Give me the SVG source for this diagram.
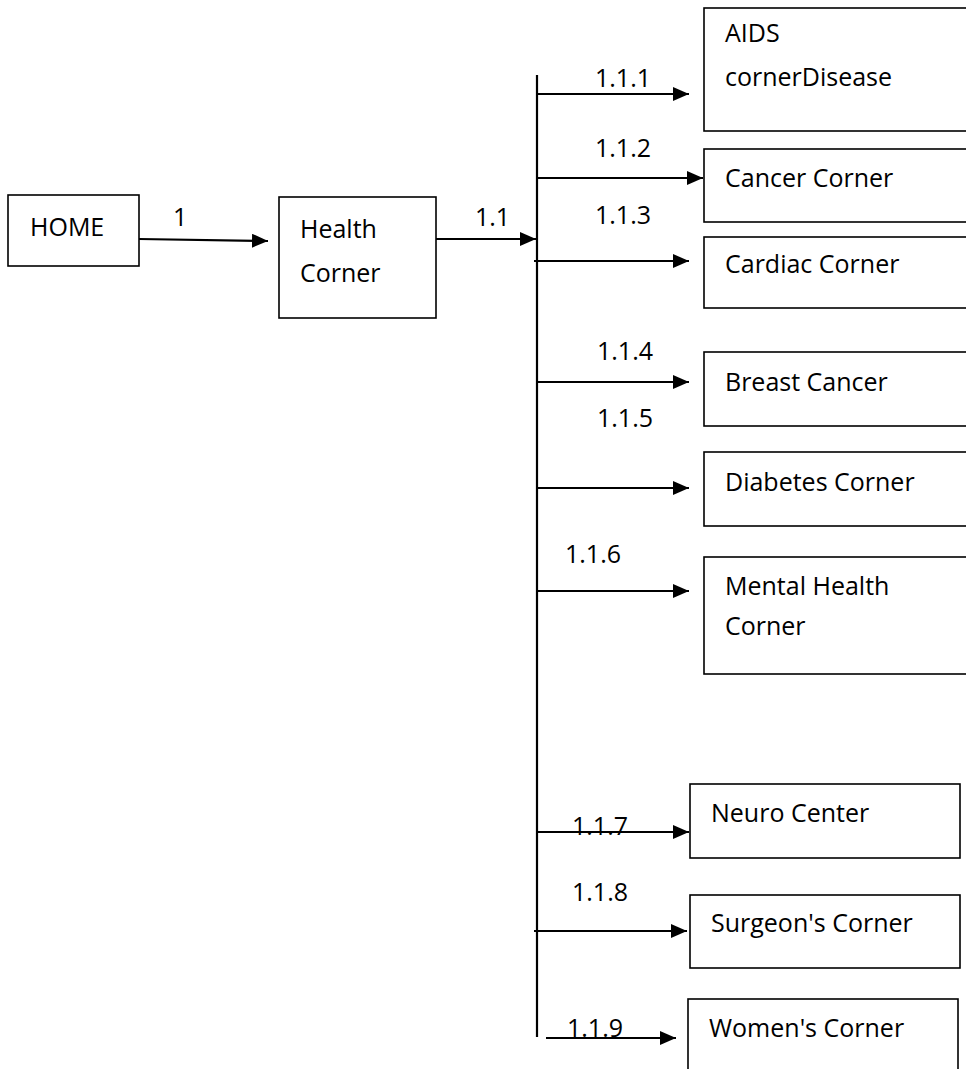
<svg xmlns="http://www.w3.org/2000/svg" width="966" height="1069" viewBox="0 0 966 1069">
  <style>
    .box { fill: #ffffff; stroke: #000000; stroke-width: 1.6; }
    .lbl { font-family: "Open Sans", "Liberation Sans", sans-serif; font-size: 25px; fill: #000000; }
    .wire { stroke: #000000; stroke-width: 2.2; fill: none; }
    .arrow { stroke: #000000; stroke-width: 2.2; fill: none; marker-end: url(#head); }
  </style>
  <defs>
    <marker id="head" markerUnits="userSpaceOnUse" markerWidth="16" markerHeight="14" refX="16" refY="7" orient="auto">
      <path d="M0,0 L16,7 L0,14 Z" fill="#000000"/>
    </marker>
  </defs>
  <rect width="966" height="1069" fill="#ffffff"/>

  <!-- connectors -->
  <g id="connectors">
    <path class="arrow" d="M139,239 L268,241"/>
    <path class="arrow" d="M436,239 L536,239"/>
    <path class="wire" d="M537,75 L537,1037"/>
    <path class="arrow" d="M537,94 L689,94"/>
    <path class="arrow" d="M537,178 L703,178"/>
    <path class="arrow" d="M534,261 L689,261"/>
    <path class="arrow" d="M537,382 L689,382"/>
    <path class="arrow" d="M537,488 L689,488"/>
    <path class="arrow" d="M537,591 L689,591"/>
    <path class="arrow" d="M537,832 L689,832"/>
    <path class="arrow" d="M534,931 L687,931"/>
    <path class="arrow" d="M546,1038 L676,1038"/>
    <text class="lbl" x="173" y="226">1</text>
    <text class="lbl" x="475" y="226">1.1</text>
    <text class="lbl" x="595" y="87">1.1.1</text>
    <text class="lbl" x="595" y="157">1.1.2</text>
    <text class="lbl" x="595" y="224">1.1.3</text>
    <text class="lbl" x="597" y="360">1.1.4</text>
    <text class="lbl" x="597" y="427">1.1.5</text>
    <text class="lbl" x="565" y="563">1.1.6</text>
    <text class="lbl" x="572" y="835">1.1.7</text>
    <text class="lbl" x="572" y="901">1.1.8</text>
    <text class="lbl" x="567" y="1037">1.1.9</text>
  </g>

  <g id="home">
    <rect class="box" x="8" y="195" width="131" height="71"/>
    <text class="lbl" x="30" y="236">HOME</text>
  </g>
  <g id="health-corner">
    <rect class="box" x="279" y="197" width="157" height="121"/>
    <text class="lbl" x="300" y="238">Health</text>
    <text class="lbl" x="300" y="282">Corner</text>
  </g>
  <g id="aids">
    <rect class="box" x="704" y="8" width="270" height="123"/>
    <text class="lbl" x="725" y="42">AIDS</text>
    <text class="lbl" x="725" y="86">cornerDisease</text>
  </g>
  <g id="cancer">
    <rect class="box" x="704" y="149" width="270" height="73"/>
    <text class="lbl" x="725" y="187">Cancer Corner</text>
  </g>
  <g id="cardiac">
    <rect class="box" x="704" y="237" width="270" height="71"/>
    <text class="lbl" x="725" y="273">Cardiac Corner</text>
  </g>
  <g id="breast-cancer">
    <rect class="box" x="704" y="352" width="270" height="74"/>
    <text class="lbl" x="725" y="391">Breast Cancer</text>
  </g>
  <g id="diabetes">
    <rect class="box" x="704" y="452" width="270" height="74"/>
    <text class="lbl" x="725" y="491">Diabetes Corner</text>
  </g>
  <g id="mental-health">
    <rect class="box" x="704" y="557" width="270" height="117"/>
    <text class="lbl" x="725" y="595">Mental Health</text>
    <text class="lbl" x="725" y="635">Corner</text>
  </g>
  <g id="neuro">
    <rect class="box" x="690" y="784" width="270" height="74"/>
    <text class="lbl" x="711" y="822">Neuro Center</text>
  </g>
  <g id="surgeon">
    <rect class="box" x="690" y="895" width="270" height="73"/>
    <text class="lbl" x="711" y="932">Surgeon's Corner</text>
  </g>
  <g id="women">
    <rect class="box" x="688" y="999" width="270" height="90"/>
    <text class="lbl" x="709" y="1037">Women's Corner</text>
  </g>
</svg>
